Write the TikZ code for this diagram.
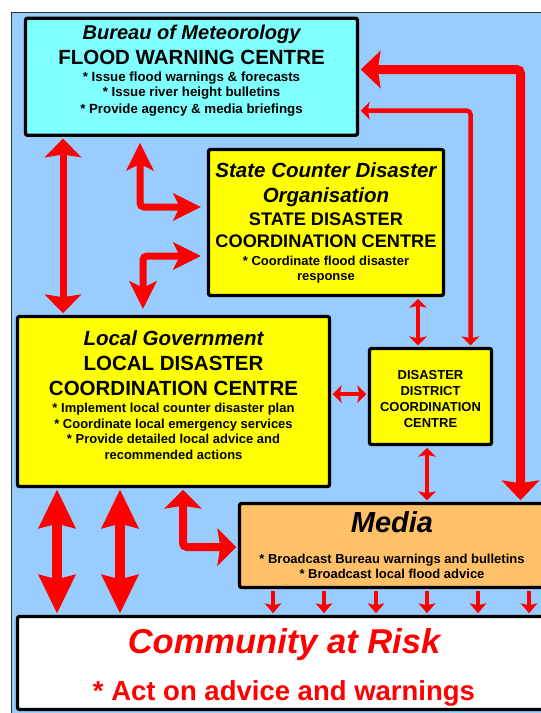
\documentclass[tikz,border=0pt]{standalone}
\usepackage{fontspec}
\setmainfont{Liberation Sans}
\usetikzlibrary{arrows.meta, calc}

\definecolor{skyBlue}{HTML}{99CCFF}
\definecolor{bomCyan}{HTML}{80FFFF}
\definecolor{cdYellow}{HTML}{FFFF00}
\definecolor{mediaOrange}{HTML}{FFC068}
\definecolor{flowRed}{HTML}{FF0000}

\newcommand\setfs[2]{\fontsize{#1}{#2}\selectfont}
\newcommand\bul{*}

\begin{document}
\begin{tikzpicture}[
	x=1pt, y=-1pt,
	centre/.style={draw=black, line width=3.3pt, rounded corners=2pt, align=flush center, font=\bfseries, inner sep=0pt,
		execute at begin node={\spaceskip=0pt\xspaceskip=0pt\relax}},
	twoWay/.style n args={3}{{Stealth[length=#1, width=#2, inset=#3, line width=0pt]}-{Stealth[length=#1, width=#2, inset=#3, line width=0pt]}},
	flow/.style={flowRed, rounded corners=4pt, shorten <=1.6pt, shorten >=1.6pt},
	bigArrow/.style={flow, line width=7pt, twoWay={19pt}{37pt}{3pt}},
	wideArrow/.style={flow, line width=9pt, twoWay={20pt}{38pt}{3pt}},
	longArrow/.style={flow, line width=10pt, twoWay={39pt}{38pt}{5pt}},
	lArrow/.style={flow, line width=7pt, twoWay={28pt}{28pt}{7pt}, shorten <=6pt, shorten >=6pt},
	cornerArrow/.style={flow, line width=8pt, twoWay={19pt}{38pt}{3pt}},
	thinArrow/.style={flow, line width=4pt, twoWay={9pt}{18pt}{2pt}},
	dropArrow/.style={flow, line width=3.5pt, -{Stealth[length=10pt, width=17pt, inset=2pt, line width=0pt]}}
	]

	\useasboundingbox (0,0) rectangle (541,713);
	\clip (0,0) rectangle (541,713);
	\fill[white] (0,0) rectangle (541,713);
	\draw[fill=skyBlue, draw=black!80, line width=0.8pt] (11,12.5) rectangle (600,760);

	% lanes and rows for the connectors
	\coordinate (laneBL) at (63,0);
	\coordinate (laneBS) at (140,0);
	\coordinate (laneSL) at (143,0);
	\coordinate (laneSD) at (418,0);
	\coordinate (laneDM) at (427,0);
	\coordinate (laneBD) at (470.5,0);
	\coordinate (laneBM) at (520.5,0);
	\coordinate (laneC1) at (57,0);
	\coordinate (laneC2) at (120,0);
	\coordinate (laneLM) at (183,0);
	\coordinate (rowBM) at (0,69.5);
	\coordinate (rowBD) at (0,110.5);
	\coordinate (rowBS) at (0,207);
	\coordinate (rowSL) at (0,256);
	\coordinate (rowLD) at (0,394);
	\coordinate (rowLM) at (0,547);

	% Bureau
	\node[centre, fill=bomCyan, minimum width=332pt, minimum height=117pt, text width=326pt] (bom) at (191.5,76.75) {
		\setfs{20}{26}\itshape Bureau of Meteorology\\
		\setfs{20.5}{25}\upshape FLOOD WARNING CENTRE\\
		\setfs{13.3}{17}\bul{} Issue flood warnings \& forecasts\\
		\setfs{13.3}{16}\bul{} Issue river height bulletins\\
		\bul{} Provide agency \& media briefings\rule[-16pt]{0pt}{1pt}\par};

	% State
	\node[centre, fill=cdYellow, minimum width=235pt, minimum height=146pt, text width=230pt] (state) at (326,222.5) {
		\setfs{20.5}{25}\itshape State Counter Disaster\\
		Organisation\\
		\setfs{18.2}{23}\upshape STATE DISASTER\\
		\setfs{18.2}{22}COORDINATION CENTRE\\
		\setfs{13}{18}\bul{} Coordinate flood disaster\\
		\setfs{13}{15}response\par};

	% Local
	\node[centre, fill=cdYellow, minimum width=312pt, minimum height=170pt, text width=306pt] (local) at (173.5,401.5) {
		\setfs{20.5}{25}\itshape Local Government\\
		\upshape LOCAL DISASTER\\
		COORDINATION CENTRE\\
		\setfs{13}{17}\bul{} Implement local counter disaster plan\\
		\setfs{13}{16}\bul{} Coordinate local emergency services\\
		\setfs{13}{15}\bul{} Provide detailed local advice and\\
		\setfs{13}{16}recommended actions\rule[-13pt]{0pt}{1pt}\par};

	% District
	\node[centre, fill=cdYellow, minimum width=122pt, minimum height=96pt, text width=116pt] (district) at (430.5,396.5) {
		\setfs{13}{16}\rule{0pt}{13.5pt}DISASTER\\
		DISTRICT\\
		COORDINATION\\
		CENTRE\par};

	% Media
	\node[centre, fill=mediaOrange, minimum width=305pt, minimum height=84pt, text width=300pt] (media) at (392,545.5) {
		\setfs{29}{31}\itshape Media\\
		\setfs{13}{31}\upshape \bul{} Broadcast Bureau warnings and bulletins\\
		\setfs{13}{15}\bul{} Broadcast local flood advice\par};

	% Community
	\node[centre, fill=white, text=flowRed, minimum width=533pt, minimum height=93pt, text width=520pt] (community) at (284,663) {
		\setfs{34.5}{40}\itshape\rule{0pt}{33pt}Community at Risk\\
		\setfs{27.5}{47}\upshape \bul{} Act on advice and warnings\par};

	% connectors
	\draw[bigArrow] (bom.south -| laneBL) -- (local.north -| laneBL);
	\draw[lArrow] (bom.south -| laneBS) |- (state.west |- rowBS);
	\draw[lArrow] (state.west |- rowSL) -| (local.north -| laneSL);
	\draw[thinArrow] (state.south -| laneSD) -- (district.north -| laneSD);
	\draw[thinArrow, line width=4.5pt] (bom.east |- rowBD) -| (district.north -| laneBD);
	\draw[wideArrow] (bom.east |- rowBM) -| (media.north -| laneBM);
	\draw[thinArrow] (local.east |- rowLD) -- (district.west |- rowLD);
	\draw[thinArrow] (district.south -| laneDM) -- (media.north -| laneDM);
	\foreach \lane in {laneC1, laneC2}
		\draw[longArrow] (local.south -| \lane) -- (community.north -| \lane);
	\draw[cornerArrow] (local.south -| laneLM) |- (media.west |- rowLM);
	\foreach \x in {273,324,376,427,478,529} {
		\coordinate (drop) at (\x,0);
		\draw[dropArrow] (media.south -| drop) -- (community.north -| drop);
	}
\end{tikzpicture}
\end{document}
